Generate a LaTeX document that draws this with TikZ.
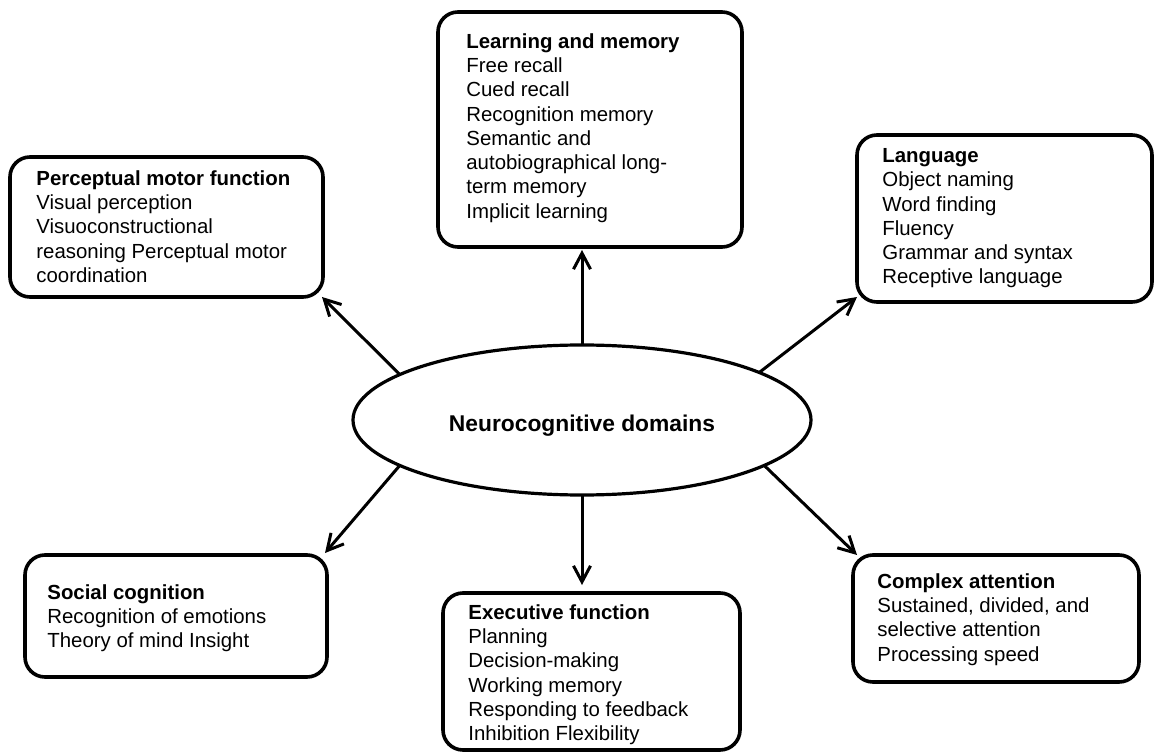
\documentclass[tikz,border=0pt]{standalone}
\usepackage{fontspec}
\setmainfont{Liberation Sans}
\usetikzlibrary{arrows.meta,calc,shapes.geometric}

\begin{document}
\begin{tikzpicture}[x=0.5pt,y=-0.5pt,
  dombox/.style={draw, line width=1.8pt, rounded corners=10pt, inner sep=0pt, outer sep=0pt},
  domtext/.style={anchor=north west, inner sep=0pt, align=left,
    font=\fontsize{10.2pt}{12.15pt}\selectfont},
  hub/.style={draw, ellipse, line width=1.6pt, inner sep=0pt, outer sep=0pt,
    minimum width=229pt, minimum height=75pt, text height=11pt, text depth=0pt,
    font=\fontsize{11.4pt}{13pt}\selectfont\bfseries},
  link/.style={line width=1.5pt,
    -{Straight Barb[length=8pt,width=8.5pt,line width=1.5pt]}}]

\useasboundingbox (0,0) rectangle (1157,754);

% central domain
\node[hub] (ell) at (582,420) {Neurocognitive domains};

% domain boxes
\node[dombox, minimum width=156.5pt, minimum height=70pt]  (pm) at (166.5,227)  {};
\node[dombox, minimum width=152pt,   minimum height=117.5pt] (lm) at (590,129.5) {};
\node[dombox, minimum width=147.5pt, minimum height=83.5pt] (la) at (1004.5,218.5) {};
\node[dombox, minimum width=151pt,   minimum height=61pt]   (sc) at (176,616)   {};
\node[dombox, minimum width=148.5pt, minimum height=78.5pt] (ef) at (591.5,671.5) {};
\node[dombox, minimum width=143pt,   minimum height=63.5pt] (ca) at (996,618.5) {};

% box contents
\node[domtext] (pmtxt) at (36,170) {\textbf{Perceptual motor function}\\
  Visual perception\\ Visuoconstructional\\ reasoning Perceptual motor\\ coordination};
\node[domtext] (lmtxt) at (466,33) {\textbf{Learning and memory}\\
  Free recall\\ Cued recall\\ Recognition memory\\ Semantic and\\
  autobiographical long-\\ term memory\\ Implicit learning};
\node[domtext] (latxt) at (882,148) {\textbf{Language}\\
  Object naming\\ Word finding\\ Fluency\\ Grammar and syntax\\ Receptive language};
\node[domtext] (sctxt) at (47,584) {\textbf{Social cognition}\\
  Recognition of emotions\\ Theory of mind Insight};
\node[domtext] (eftxt) at (468,604) {\textbf{Executive function}\\
  Planning\\ Decision-making\\ Working memory\\ Responding to feedback\\
  Inhibition Flexibility};
\node[domtext] (catxt) at (877,573) {\textbf{Complex attention}\\
  Sustained, divided, and\\ selective attention\\ Processing speed};

% connectors
\draw[link] (ell.north) -- ($(ell.north |- lm.south)+(0,3)$);
\draw[link] (ell.south) -- ($(ell.south |- ef.north)+(0,-8)$);
\draw[link] (ell.166.6) -- ($(pm.south east)+(-1,0)$);
\draw[link] (ell.15.6) -- ($(la.south west)+(0,-5)$);
\draw[link] (ell.194.1) -- ($(sc.north east)+(-2,-2)$);
\draw[link] (ell.-14) -- ($(ca.north west)+(4,0)$);

\end{tikzpicture}
\end{document}
